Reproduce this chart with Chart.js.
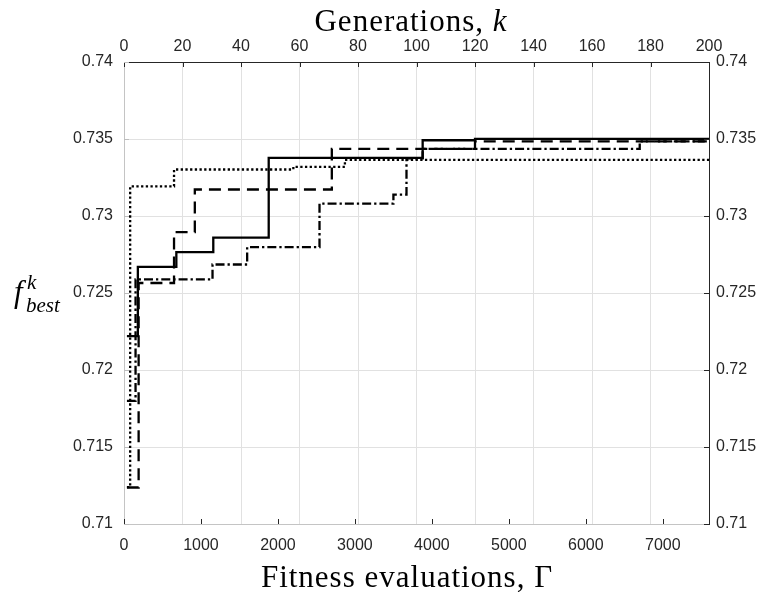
<!DOCTYPE html>
<html>
<head>
<meta charset="utf-8">
<script src="https://cdn.jsdelivr.net/npm/chart.js@4.4.1/dist/chart.umd.min.js"></script>
<style>
  html, body { margin: 0; padding: 0; background: #fff; }
  #wrap { width: 764px; height: 592px; }
</style>
</head>
<body>
<div id="wrap"><canvas id="fitChart" width="764" height="592"></canvas></div>
<script>
/* best fitness per run: evaluation count where the value changes, and the new value */
const solidEvals = [38, 180, 680, 1160, 1880, 3880, 4560, 7600];
const solidBest  = [0.7222, 0.7267, 0.72765, 0.72859, 0.73377, 0.73492, 0.73501, 0.73501];

const dashedEvals = [38, 190, 650, 920, 2700, 4560, 7600];
const dashedBest  = [0.71237, 0.72565, 0.72895, 0.73172, 0.73436, 0.73485, 0.73485];

const dottedEvals = [38, 80, 650, 2200, 2870, 7600];
const dottedBest  = [0.7124, 0.73193, 0.73302, 0.73319, 0.73364, 0.73364];

const dashDotEvals = [38, 150, 1150, 1600, 2540, 3500, 3670, 3880, 6700, 7600];
const dashDotBest  = [0.7180, 0.72588, 0.72685, 0.72798, 0.73081, 0.73139, 0.73375, 0.73436, 0.73485, 0.73485];

/* tick labels */
const evalTicks = [0, 1000, 2000, 3000, 4000, 5000, 6000, 7000];
const genTicks  = [0, 20, 40, 60, 80, 100, 120, 140, 160, 180, 200];
const fitTicks  = [0.71, 0.715, 0.72, 0.725, 0.73, 0.735, 0.74];

const INK = '#262626';
const SANS = '"Liberation Sans", Arial, sans-serif';
const SERIF = '"Liberation Serif", "Times New Roman", serif';

function pts(xs, ys){ return xs.map((x, i) => ({ x, y: ys[i] })); }
function setTicks(list){ return scale => { scale.ticks = list.map(v => ({ value: v })); }; }
function fmt(v){ return String(+v.toFixed(3)); }

function run(label, xs, ys, dash){
  return {
    label, data: pts(xs, ys), xAxisID: 'x', yAxisID: 'y',
    stepped: true, borderColor: '#000', borderWidth: 2.3, borderDash: dash,
    pointRadius: 0, fill: false, tension: 0
  };
}

/* inward tick marks, MATLAB style */
const tickMarks = {
  id: 'tickMarks',
  afterDatasetsDraw(chart){
    const { ctx, chartArea: a, scales } = chart;
    const len = 5;
    ctx.save();
    ctx.lineWidth = 1;
    ctx.strokeStyle = INK;
    scales.x.ticks.forEach(t => {
      const p = Math.round(scales.x.getPixelForValue(t.value)) + 0.5;
      ctx.beginPath(); ctx.moveTo(p, a.bottom); ctx.lineTo(p, a.bottom - len); ctx.stroke();
    });
    scales.x2.ticks.forEach(t => {
      const p = Math.round(scales.x2.getPixelForValue(t.value)) + 0.5;
      ctx.beginPath(); ctx.moveTo(p, a.top); ctx.lineTo(p, a.top + len); ctx.stroke();
    });
    scales.y2.ticks.forEach(t => {
      const p = Math.round(scales.y2.getPixelForValue(t.value)) + 0.5;
      ctx.beginPath(); ctx.moveTo(a.right, p); ctx.lineTo(a.right - len, p); ctx.stroke();
    });
    ctx.strokeStyle = '#bdbdbd';
    scales.y.ticks.forEach(t => {
      const p = Math.round(scales.y.getPixelForValue(t.value)) + 0.5;
      ctx.beginPath(); ctx.moveTo(a.left, p); ctx.lineTo(a.left + len, p); ctx.stroke();
    });
    ctx.restore();
  }
};

/* axis titles with mixed italic runs */
function drawRuns(ctx, runs, cx, y){
  let w = 0;
  runs.forEach(r => { ctx.font = r.font; w += ctx.measureText(r.text).width; });
  let x = cx - w / 2;
  runs.forEach(r => { ctx.font = r.font; ctx.fillText(r.text, x, y); x += ctx.measureText(r.text).width; });
}

const axisTitles = {
  id: 'axisTitles',
  afterDraw(chart){
    const ctx = chart.ctx;
    ctx.save();
    ctx.fillStyle = '#000';
    ctx.textBaseline = 'alphabetic';
    ctx.textAlign = 'left';
    if ('letterSpacing' in ctx) ctx.letterSpacing = '1px';
    drawRuns(ctx, [
      { text: 'Generations, ', font: '31px ' + SERIF },
      { text: 'k', font: 'italic 31px ' + SERIF }
    ], 411, 31);
    drawRuns(ctx, [{ text: 'Fitness evaluations, \u0393', font: '31px ' + SERIF }], 407, 587);
    if ('letterSpacing' in ctx) ctx.letterSpacing = '0px';
    ctx.font = 'italic 31px ' + SERIF;
    ctx.fillText('f', 14, 302);
    ctx.font = 'italic 21px ' + SERIF;
    ctx.fillText('k', 27, 289);
    ctx.fillText('best', 26, 312);
    ctx.restore();
  }
};

const tickFont = { family: SANS, size: 16 };

new Chart(document.getElementById('fitChart'), {
  type: 'line',
  data: {
    datasets: [
      run('Run 1', solidEvals, solidBest, []),
      run('Run 2', dashedEvals, dashedBest, [12, 7]),
      run('Run 3', dottedEvals, dottedBest, [2.3, 2.4]),
      run('Run 4', dashDotEvals, dashDotBest, [9, 3, 2.3, 3])
    ]
  },
  options: {
    responsive: false,
    animation: false,
    devicePixelRatio: 1,
    layout: { padding: 0 },
    plugins: { legend: { display: false }, tooltip: { enabled: false } },
    scales: {
      x: {
        type: 'linear', position: 'bottom', min: 0, max: 7600,
        afterBuildTicks: setTicks(evalTicks),
        afterFit: s => { s.height = 68; },
        grid: { display: false, drawTicks: false },
        border: { display: true, color: '#c4c4c4', width: 1 },
        ticks: { font: tickFont, color: INK, padding: 12, maxRotation: 0, callback: v => String(v) }
      },
      x2: {
        type: 'linear', position: 'top', min: 0, max: 200,
        afterBuildTicks: setTicks(genTicks),
        afterFit: s => { s.height = 62; },
        grid: { display: true, drawOnChartArea: true, drawTicks: false, color: '#e1e1e1', lineWidth: 1 },
        border: { display: true, color: INK, width: 1 },
        ticks: { font: tickFont, color: INK, padding: 6, maxRotation: 0, callback: v => String(v) }
      },
      y: {
        type: 'linear', position: 'left', min: 0.71, max: 0.74,
        afterBuildTicks: setTicks(fitTicks),
        afterFit: s => { s.width = 124; },
        grid: { display: true, drawOnChartArea: true, drawTicks: false, color: '#e1e1e1', lineWidth: 1 },
        border: { display: true, color: '#c4c4c4', width: 1 },
        ticks: { font: tickFont, color: INK, padding: 11, callback: fmt }
      },
      y2: {
        type: 'linear', position: 'right', min: 0.71, max: 0.74,
        afterBuildTicks: setTicks(fitTicks),
        afterFit: s => { s.width = 55; },
        grid: { display: false, drawTicks: false },
        border: { display: true, color: INK, width: 1 },
        ticks: { font: tickFont, color: INK, padding: 7, callback: fmt }
      }
    }
  },
  plugins: [tickMarks, axisTitles]
});
</script>
</body>
</html>
